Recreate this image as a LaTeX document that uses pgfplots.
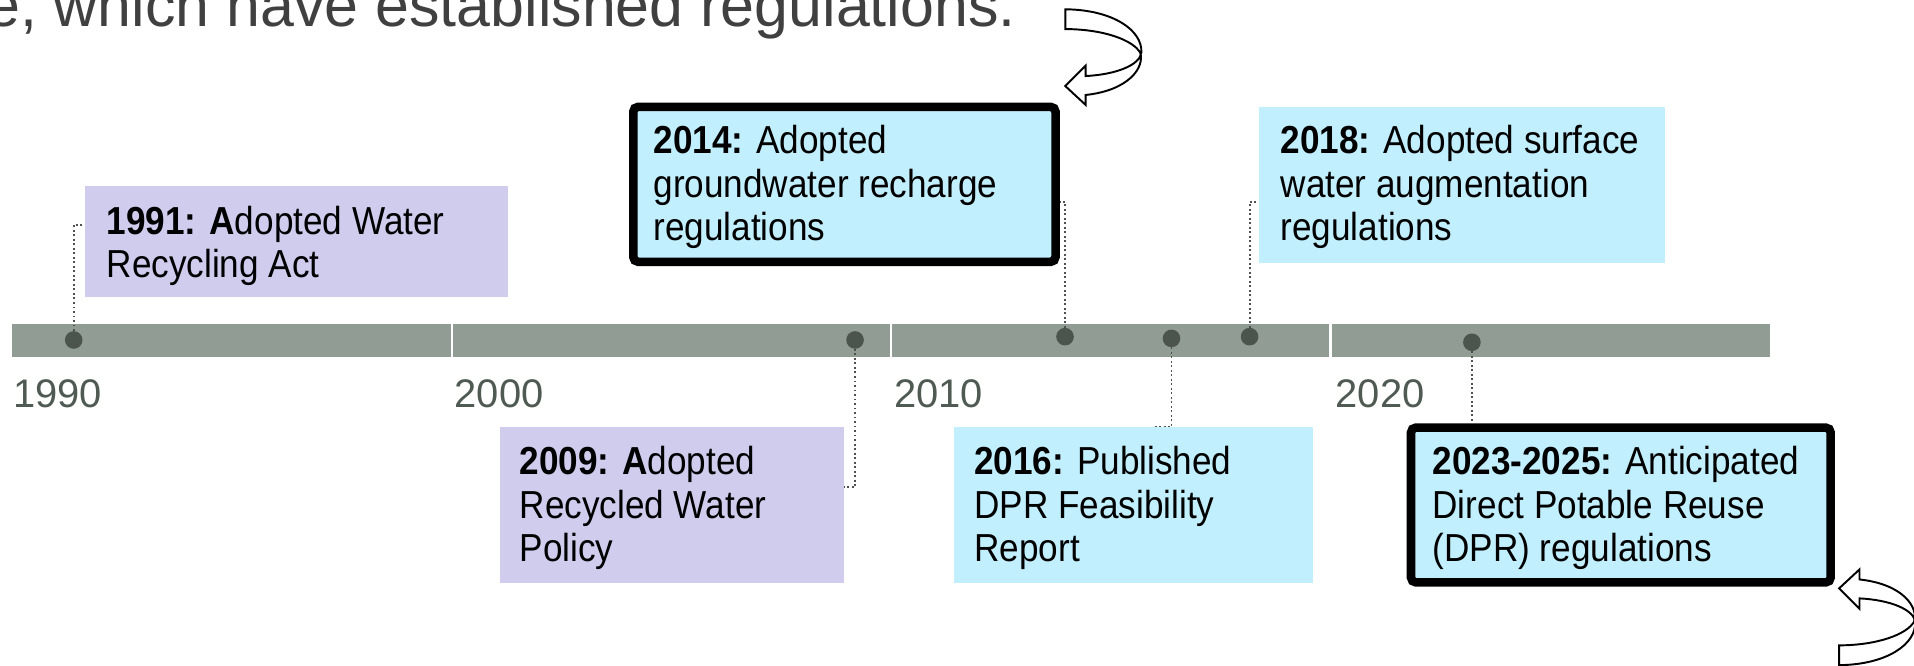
\documentclass[border=0pt]{standalone}
\usepackage{pgfplots}
\pgfplotsset{compat=1.18}
\usepackage{fontspec}
\setmainfont{Liberation Sans}
\newfontfamily\boxfont[FakeStretch=0.9]{Liberation Sans}
\definecolor{barc}{HTML}{919D94}
\definecolor{dotc}{HTML}{4B544D}
\definecolor{tickc}{HTML}{4F5A52}
\definecolor{purp}{HTML}{D0CCEE}
\definecolor{cyanb}{HTML}{C1EFFD}
\definecolor{titlec}{HTML}{404040}
\definecolor{connc}{HTML}{505050}
\newcommand\bfont{\boxfont\fontsize{9.1pt}{10pt}\selectfont}
\newcommand\bl[3]{\node[anchor=base west, inner sep=0pt, font=\bfont] at (#1,#2) {#3};}
\newcommand\arrowpath{(0,-62.9) .. controls (39.3,-62.5) and (63.3,-45.5) .. (62.3,-27.5) .. controls (61.3,-17.5) and (42.3,-9.5) .. (16.7,-8.2) -- (16.7,-16.7) -- (0,0) -- (16.7,15.5) -- (16.7,7.3) .. controls (52.3,3.5) and (65.3,-15.5) .. (61.3,-27.5) .. controls (55.3,-37.5) and (32.3,-46.5) .. (0,-46.7) -- cycle}
\pgfplotsset{conn/.style={connc, line width=0.45pt, dash pattern=on 0.45pt off 0.6pt}}
\begin{document}
\begin{tikzpicture}
\begin{axis}[scale only axis, width=156.8mm, height=54.5mm, at={(0,0)}, anchor=south west,
  xmin=1989.72222, xmax=2033.27778, ymin=0, ymax=545, y dir=reverse, hide axis, clip=false]
% timeline bar (four decades)
\addplot[fill=barc, draw=none] coordinates {(1990,265.7) (1999.975,265.7) (1999.975,292.2) (1990,292.2)} -- cycle;
\addplot[fill=barc, draw=none] coordinates {(2000.025,265.7) (2009.975,265.7) (2009.975,292.2) (2000.025,292.2)} -- cycle;
\addplot[fill=barc, draw=none] coordinates {(2010.025,265.7) (2019.975,265.7) (2019.975,292.2) (2010.025,292.2)} -- cycle;
\addplot[fill=barc, draw=none] coordinates {(2020.025,265.7) (2030,265.7) (2030,292.2) (2020.025,292.2)} -- cycle;
% connectors
\addplot[conn] coordinates {(1991.4,278.5) (1991.4,184.3) (1991.653,184.3)};
\addplot[conn] coordinates {(2009.18,278.5) (2009.18,399.2) (2008.925,399.2)};
\addplot[conn] coordinates {(2013.958,275.8) (2013.958,165.2) (2013.839,165.2)};
\addplot[conn] coordinates {(2016.381,277.2) (2016.381,350) (2015.964,350)};
\addplot[conn] coordinates {(2018.158,275.8) (2018.158,165.2) (2018.378,165.2)};
\addplot[conn] coordinates {(2023.217,280.4) (2023.217,346.8)};
% event dots
\addplot[only marks, mark=*, mark size=1.85pt, color=dotc] coordinates {(1991.4,278.5) (2009.18,278.5) (2013.958,275.8) (2016.381,277.2) (2018.158,275.8) (2023.217,280.4)};
% decade labels
\node[anchor=base west, inner sep=0pt, font=\fontsize{9.3pt}{10pt}\selectfont, text=tickc] at (axis cs:1990.0,334) {1990};
\node[anchor=base west, inner sep=0pt, font=\fontsize{9.3pt}{10pt}\selectfont, text=tickc] at (axis cs:2000.05,334) {2000};
\node[anchor=base west, inner sep=0pt, font=\fontsize{9.3pt}{10pt}\selectfont, text=tickc] at (axis cs:2010.05,334) {2010};
\node[anchor=base west, inner sep=0pt, font=\fontsize{9.3pt}{10pt}\selectfont, text=tickc] at (axis cs:2020.1,334) {2020};
\end{axis}
\begin{scope}[shift={(0,54.5mm)}, x=0.1mm, y=-0.1mm]
\node[anchor=base west, inner sep=0pt, font=\fontsize{14.2pt}{16pt}\selectfont, text=titlec] at (-12,22) {e, which have established regulations.};
% boxes
\fill[purp] (69.5,152.4) rectangle (416,243);
\fill[purp] (410,349.5) rectangle (691.3,477.3);
\fill[cyanb] (1031.6,87.4) rectangle (1364.3,215.2);
\fill[cyanb] (781.5,349.5) rectangle (1075.5,477.3);
\filldraw[fill=cyanb, draw=black, line width=0.7mm, rounded corners=0.4mm] (518.8,87.5) rectangle (864.7,214.5);
\filldraw[fill=cyanb, draw=black, line width=0.7mm, rounded corners=0.4mm] (1155.9,350.3) rectangle (1499.7,477.1);
% texts
\bl{86.7}{192}{\textbf{1991: A}dopted Water}
\bl{86.7}{227.5}{Recycling Act}
\bl{534.7}{126}{\textbf{2014:} Adopted}
\bl{534.7}{161.5}{groundwater recharge}
\bl{534.7}{197}{regulations}
\bl{1048.4}{126}{\textbf{2018:} Adopted surface}
\bl{1048.4}{161.5}{water augmentation}
\bl{1048.4}{197}{regulations}
\bl{425}{389}{\textbf{2009: A}dopted}
\bl{425}{424.5}{Recycled Water}
\bl{425}{460}{Policy}
\bl{797.5}{389}{\textbf{2016:} Published}
\bl{797.5}{424.5}{DPR Feasibility}
\bl{797.5}{460}{Report}
\bl{1172.9}{389}{\textbf{2023-2025:} Anticipated}
\bl{1172.9}{424.5}{Direct Potable Reuse}
\bl{1172.9}{460}{(DPR) regulations}
% curved arrows
\begin{scope}[shift={(872.7,70.5)}]
\filldraw[fill=white, draw=black, line width=0.45pt] \arrowpath;
\end{scope}
\begin{scope}[shift={(1506.6,482)}, yscale=-1]
\filldraw[fill=white, draw=black, line width=0.45pt] \arrowpath;
\end{scope}
\end{scope}
\pgfresetboundingbox
\path[use as bounding box] (0,0) rectangle (156.8mm,54.5mm);
\end{tikzpicture}
\end{document}
